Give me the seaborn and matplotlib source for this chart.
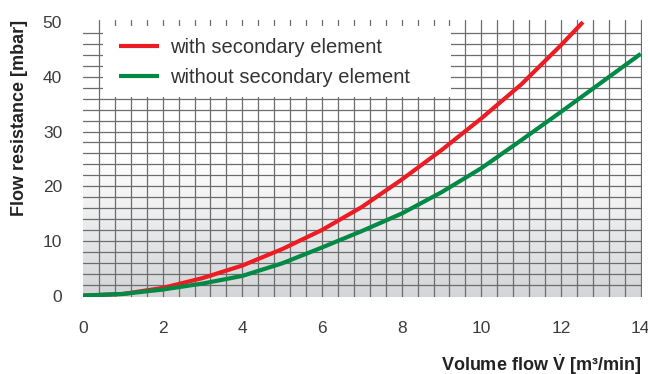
import numpy as np
import pandas as pd
import matplotlib
matplotlib.use("Agg")
import matplotlib.pyplot as plt
from matplotlib.patches import Rectangle
import seaborn as sns

# ---- data ----
x_with = [0, 1, 2, 3, 4, 5, 6, 7, 8, 9, 10, 11, 12, 12.55]
y_with = [0, 0.3, 1.4, 3.2, 5.5, 8.5, 12.0, 16.2, 21.2, 26.6, 32.4, 38.6, 45.8, 50.0]
x_without = [0, 1, 2, 3, 4, 5, 6, 7, 8, 9, 10, 11, 12, 13, 14]
y_without = [0, 0.3, 1.1, 2.2, 3.6, 5.9, 8.8, 11.8, 15.0, 18.9, 23.3, 28.4, 33.6, 38.9, 44.2]
series_labels = ["with secondary element", "without secondary element"]
x_ticks = [0, 2, 4, 6, 8, 10, 12, 14]
y_ticks = [0, 10, 20, 30, 40, 50]
x_label = "Volume flow $\\dot{\\mathbf{V}}$ [m\u00b3/min]"
y_label = "Flow resistance [mbar]"

sns.set_theme(style="white")
plt.rcParams["font.family"] = ["Liberation Sans", "DejaVu Sans"]
plt.rcParams["mathtext.fontset"] = "custom"
plt.rcParams["mathtext.rm"] = "Liberation Sans"
plt.rcParams["mathtext.bf"] = "Liberation Sans:bold"

W, H = 648, 374
fig = plt.figure(figsize=(W / 100, H / 100), dpi=100)
left, right, top, bottom = 83, 641.5, 19.5, 297
ax = fig.add_axes([left / W, 1 - bottom / H, (right - left) / W, (bottom - top) / H])

XMAX = 14.02
YMIN, YMAX = -0.256, 50.48

# background gradient (white top -> light grey bottom)
yy = np.linspace(YMIN, YMAX, 400)
t = np.clip((25 - yy) / 25, 0, 1)[:, None]
top_c = np.array([1.0, 1.0, 1.0])
bot_c = np.array([0.83, 0.835, 0.845])
img = (top_c + (bot_c - top_c) * t)[:, None, :].repeat(2, axis=1)
ax.imshow(img, extent=[0, XMAX, YMIN, YMAX], aspect="auto", origin="lower", zorder=0)

# grid
grid_c = "#6c6c6c"
for v in np.arange(0.4, 14.001, 0.4):
    ax.axvline(v, color=grid_c, lw=0.9, zorder=1)
for v in np.arange(2, 48.001, 2):
    ax.axhline(v, color=grid_c, lw=0.9, zorder=1)

# white legend box
ax.add_patch(Rectangle(((103 - left) / (right - left), (bottom - 97) / (bottom - top)),
                       (450.5 - 103) / (right - left), 71 / (bottom - top),
                       transform=ax.transAxes, facecolor="white", edgecolor="none", zorder=2))

df_w = pd.DataFrame({"x": x_with, "y": y_with})
df_wo = pd.DataFrame({"x": x_without, "y": y_without})
sns.lineplot(data=df_w, x="x", y="y", ax=ax, color="#ec1c24", lw=3,
             label=series_labels[0], zorder=3, solid_capstyle="butt")
sns.lineplot(data=df_wo, x="x", y="y", ax=ax, color="#008a45", lw=3,
             label=series_labels[1], zorder=3, solid_capstyle="butt")

ax.set_xlim(0, XMAX)
ax.set_ylim(YMIN, YMAX)
ax.set_xticks(x_ticks)
ax.set_yticks(y_ticks)
ax.tick_params(axis="both", length=0, labelsize=12.5, colors="#3c3c3c")
ax.tick_params(axis="x", pad=17)
ax.tick_params(axis="y", pad=15)
for s in ax.spines.values():
    s.set_visible(False)

ax.set_xlabel(x_label, fontsize=13, fontweight="bold", color="#222222", loc="right", labelpad=12)
ax.set_ylabel(y_label, fontsize=13, fontweight="bold", color="#222222", loc="top", labelpad=11)

leg = ax.legend(loc="upper left",
                bbox_to_anchor=((119 - left) / (right - left), (bottom - 38) / (bottom - top)),
                frameon=False, borderpad=0, borderaxespad=0, fontsize=14.5,
                handlelength=2.0, handletextpad=0.55, labelspacing=0.55)
for txt in leg.get_texts():
    txt.set_color("#333333")
leg.set_zorder(4)

fig.savefig("out.png", dpi=100)
